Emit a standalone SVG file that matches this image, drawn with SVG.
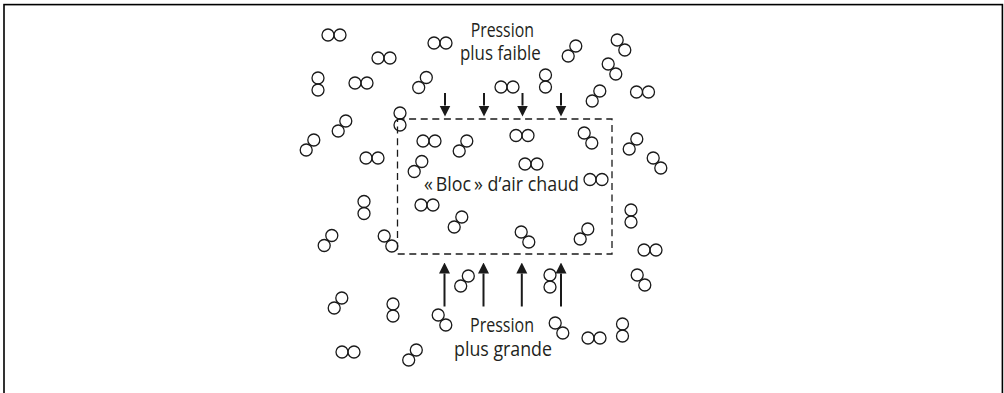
<svg xmlns="http://www.w3.org/2000/svg" xmlns:xlink="http://www.w3.org/1999/xlink" width="1004" height="393" viewBox="0 0 1004 393">
<style>
.m circle{fill:none;stroke:#1a1a1a;stroke-width:1.3}
.lbl{font-family:"Open Sans","Noto Sans","Liberation Sans",sans-serif;font-size:19.5px;fill:#231f20;text-anchor:middle}
.shaft{stroke:#1a1a1a;stroke-width:2;fill:none}
.box{fill:none;stroke:#1a1a1a;stroke-width:1.3;stroke-dasharray:7 4.6}
</style>
<defs>
<marker id="ah" viewBox="0 -6 11 12" refX="0" refY="0" markerUnits="userSpaceOnUse" markerWidth="11" markerHeight="12" orient="auto">
<path d="M0,-5.5 L11,0 L0,5.5 Z" fill="#1a1a1a"/>
</marker>
<g id="h" class="m"><circle cx="-6" cy="0" r="6"/><circle cx="6" cy="0" r="6"/></g>
<g id="v" class="m"><circle cx="0" cy="-6" r="6"/><circle cx="0" cy="6" r="6"/></g>
<g id="d1" class="m"><circle cx="-3.8" cy="5" r="6"/><circle cx="3.8" cy="-5" r="6"/></g>
<g id="d2" class="m"><circle cx="-3.8" cy="-5" r="6"/><circle cx="3.8" cy="5" r="6"/></g>
</defs>
<rect x="0" y="0" width="1004" height="393" fill="#fff"/>
<rect id="frame" x="4" y="4.6" width="998.4" height="450" fill="none" stroke="#000" stroke-width="1.6"/>

<g id="bloc">
<rect class="box" x="397.5" y="119" width="214.5" height="135"/>
<text class="lbl" x="501.5" y="190.7" textLength="155" lengthAdjust="spacingAndGlyphs">«&#8201;Bloc&#8201;» d’air chaud</text>
</g>

<g id="label-top">
<text class="lbl" x="502.3" y="37.3" textLength="63.3" lengthAdjust="spacingAndGlyphs">Pression</text>
<text class="lbl" x="500.4" y="60" textLength="80.7" lengthAdjust="spacingAndGlyphs">plus faible</text>
</g>
<g id="label-bottom">
<text class="lbl" x="502" y="331.7" textLength="64" lengthAdjust="spacingAndGlyphs">Pression</text>
<text class="lbl" x="503" y="355.5" textLength="98" lengthAdjust="spacingAndGlyphs">plus grande</text>
</g>

<g id="connectors">
<line class="shaft" x1="445" y1="93" x2="445" y2="105.5" marker-end="url(#ah)"/>
<line class="shaft" x1="484" y1="93" x2="484" y2="105.5" marker-end="url(#ah)"/>
<line class="shaft" x1="522.5" y1="93" x2="522.5" y2="105.5" marker-end="url(#ah)"/>
<line class="shaft" x1="561" y1="93" x2="561" y2="105.5" marker-end="url(#ah)"/>
<line class="shaft" x1="444.5" y1="306.5" x2="444.5" y2="273.5" marker-end="url(#ah)"/>
<line class="shaft" x1="483.5" y1="306.5" x2="483.5" y2="273.5" marker-end="url(#ah)"/>
<line class="shaft" x1="521.8" y1="306.5" x2="521.8" y2="273.5" marker-end="url(#ah)"/>
<line class="shaft" x1="561" y1="306.5" x2="561" y2="273.5" marker-end="url(#ah)"/>
</g>

<g id="molecules">
<use xlink:href="#h" x="334" y="35"/>
<use xlink:href="#h" x="440" y="43"/>
<use xlink:href="#h" x="384" y="58"/>
<use xlink:href="#h" x="361" y="83"/>
<use xlink:href="#h" x="507" y="87"/>
<use xlink:href="#h" x="642.5" y="92"/>
<use xlink:href="#h" x="522" y="135.5"/>
<use xlink:href="#h" x="429" y="141"/>
<use xlink:href="#h" x="372" y="158"/>
<use xlink:href="#h" x="531" y="164"/>
<use xlink:href="#h" x="596" y="179.5"/>
<use xlink:href="#h" x="427" y="205"/>
<use xlink:href="#h" x="650" y="250"/>
<use xlink:href="#h" x="594" y="338"/>
<use xlink:href="#h" x="348" y="352"/>

<use xlink:href="#v" x="318" y="84"/>
<use xlink:href="#v" x="545.5" y="81"/>
<use xlink:href="#v" x="400" y="119"/>
<use xlink:href="#v" x="364" y="207.5"/>
<use xlink:href="#v" x="631" y="216"/>
<use xlink:href="#v" x="550" y="281"/>
<use xlink:href="#v" x="393" y="310"/>
<use xlink:href="#v" x="622.5" y="330"/>

<use xlink:href="#d1" x="572" y="51"/>
<use xlink:href="#d1" x="422.5" y="82.5"/>
<use xlink:href="#d1" x="596" y="96"/>
<use xlink:href="#d1" x="342" y="126"/>
<use xlink:href="#d1" x="310" y="145"/>
<use xlink:href="#d1" x="463" y="146"/>
<use xlink:href="#d1" x="418" y="166.5"/>
<use xlink:href="#d1" x="633" y="144"/>
<use xlink:href="#d1" x="458" y="222"/>
<use xlink:href="#d1" x="328" y="240.5"/>
<use xlink:href="#d1" x="584" y="234"/>
<use xlink:href="#d1" x="464.5" y="281"/>
<use xlink:href="#d1" x="338" y="303"/>
<use xlink:href="#d1" x="412.5" y="355"/>

<use xlink:href="#d2" x="621" y="45"/>
<use xlink:href="#d2" x="612" y="69"/>
<use xlink:href="#d2" x="588" y="138"/>
<use xlink:href="#d2" x="657" y="163"/>
<use xlink:href="#d2" x="388" y="241"/>
<use xlink:href="#d2" x="525" y="237"/>
<use xlink:href="#d2" x="641" y="280"/>
<use xlink:href="#d2" x="442" y="320"/>
<use xlink:href="#d2" x="559" y="328"/>
</g>
</svg>
